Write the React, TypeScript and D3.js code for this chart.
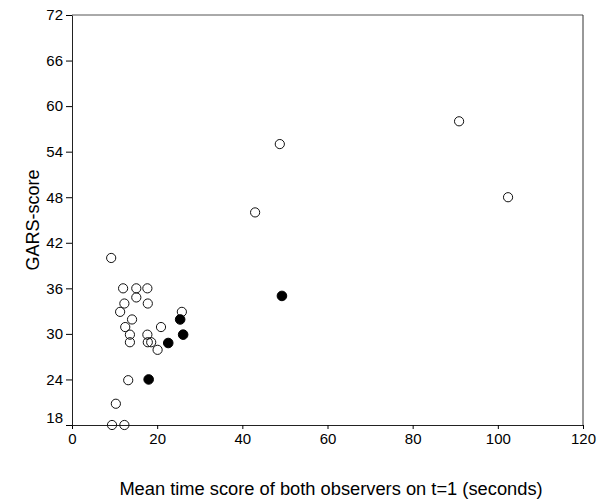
import React, { useEffect, useRef } from 'react';
import * as d3 from 'd3';

// open circles: [time score, GARS]
const openPoints: [number, number][] = [
  [9.2, 40], [12, 36], [15.1, 36], [17.7, 36], [12.3, 34], [15.1, 34.8],
  [17.8, 34], [11.3, 32.9], [14.1, 31.9], [12.5, 30.9], [13.6, 29.9],
  [13.6, 28.9], [17.7, 29.9], [17.8, 28.9], [18.6, 28.9], [20.1, 27.9],
  [20.9, 30.9], [25.8, 32.9], [13.2, 23.9], [10.3, 20.8], [9.4, 18],
  [12.3, 18], [43, 46], [48.8, 55], [90.9, 58], [102.4, 48],
];
// filled circles
const filledPoints: [number, number][] = [
  [18, 24], [22.6, 28.8], [25.4, 31.9], [26.1, 29.9], [49.3, 35],
];

const xTicks = [0, 20, 40, 60, 80, 100, 120];
const yTicks = [18, 24, 30, 36, 42, 48, 54, 60, 66, 72];

const xTitle = 'Mean time score of both observers on t=1 (seconds)';
const yTitle = 'GARS-score';

const W = 599;
const H = 502;

export default function App() {
  const ref = useRef<SVGSVGElement>(null);

  useEffect(() => {
    drawChart();
  }, []);

  function drawChart() {
    const svg = d3.select(ref.current);
    svg.selectAll('*').remove();

    const margin = { top: 15, right: 16, bottom: 77, left: 72 };
    const width = W - margin.left - margin.right;
    const height = H - margin.top - margin.bottom;
    const font = 'Arial, "Liberation Sans", Helvetica, sans-serif';

    const g = svg.append('g').attr('transform', `translate(${margin.left},${margin.top})`);

    const xScale = d3.scaleLinear().domain([0, 120]).range([0, width]);
    const yScale = d3.scaleLinear().domain([18, 72]).range([height, 0]);

    // frame (top + right)
    g.append('line')
      .attr('x1', 0).attr('x2', width).attr('y1', 0).attr('y2', 0)
      .attr('stroke', '#555').attr('stroke-width', 1);
    g.append('line')
      .attr('x1', width).attr('x2', width).attr('y1', 0).attr('y2', height)
      .attr('stroke', '#333').attr('stroke-width', 1);

    // x axis
    const xAxis = g.append('g')
      .attr('transform', `translate(0,${height})`)
      .call(d3.axisBottom(xScale).tickValues(xTicks).tickSize(4).tickPadding(4).tickSizeOuter(0));
    xAxis.select('.domain').attr('stroke', '#222');
    xAxis.selectAll('text')
      .attr('font-family', font)
      .style('font-size', '15px')
      .attr('fill', '#000');

    // y axis
    const yAxis = g.append('g')
      .call(d3.axisLeft(yScale).tickValues(yTicks).tickSize(6).tickPadding(3).tickSizeOuter(0));
    yAxis.select('.domain').attr('stroke', '#222');
    yAxis.selectAll('text')
      .attr('font-family', font)
      .style('font-size', '15px')
      .attr('fill', '#000')
      .attr('dy', (d: any) => (d === 18 ? '-0.2em' : '0.32em'));

    // points
    g.append('g').selectAll('circle.open')
      .data(openPoints).enter()
      .append('circle')
      .attr('class', 'open')
      .attr('cx', d => xScale(d[0]))
      .attr('cy', d => yScale(d[1]))
      .attr('r', 4.6)
      .attr('fill', 'none')
      .attr('stroke', '#111')
      .attr('stroke-width', 1);

    g.append('g').selectAll('circle.filled')
      .data(filledPoints).enter()
      .append('circle')
      .attr('class', 'filled')
      .attr('cx', d => xScale(d[0]))
      .attr('cy', d => yScale(d[1]))
      .attr('r', 4.8)
      .attr('fill', '#000')
      .attr('stroke', '#000');

    // axis titles
    svg.append('text')
      .attr('x', 331)
      .attr('y', 495)
      .attr('text-anchor', 'middle')
      .attr('font-family', font)
      .style('font-size', '18.3px')
      .attr('fill', '#000')
      .text(xTitle);

    svg.append('text')
      .attr('transform', `translate(39,${margin.top + height / 2}) rotate(-90)`)
      .attr('text-anchor', 'middle')
      .attr('font-family', font)
      .style('font-size', '18px')
      .attr('fill', '#000')
      .text(yTitle);
  }

  return (
    <svg
      ref={ref}
      width={W}
      height={H}
      style={{ position: 'absolute', left: 0, top: 0, background: '#fff' }}
    />
  );
}
